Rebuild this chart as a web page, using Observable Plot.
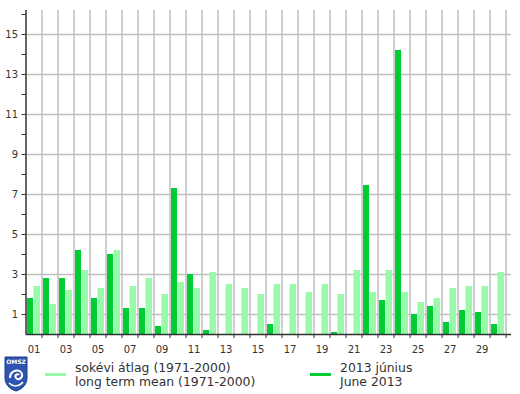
<!DOCTYPE html>
<html>
<head>
<meta charset="utf-8">
<script src="https://cdn.jsdelivr.net/npm/d3@7"></script>
<script src="https://cdn.jsdelivr.net/npm/@observablehq/plot@0.6"></script>
<style>
  html, body { margin: 0; padding: 0; background: #fff; }
  body { width: 520px; height: 394px; overflow: hidden; font-family: "DejaVu Sans", Verdana, sans-serif; }
  #chart svg { display: block; }
  #legend { position: relative; height: 36px; color: #333; font-size: 12.4px; line-height: 14px; }
  .sw { position: absolute; top: 15px; width: 21px; height: 2.5px; }
  .txt { position: absolute; top: 0; white-space: nowrap; }
</style>
</head>
<body>
<div id="chart"></div>
<div id="legend">
  <svg style="position:absolute;left:4px;top:-2px" width="24" height="36" viewBox="0 0 24 36">
    <path d="M1,1 H23 V22 C23,30 16,34 12,35 C8,34 1,30 1,22 Z" fill="#2d55b0" stroke="#1e3c8c" stroke-width="1"/>
    <text x="12" y="7.5" text-anchor="middle" fill="#fff" font-size="6" font-weight="bold" font-family="DejaVu Sans">OMSZ</text>
    <path d="M6,22 C6,14 16,12 18,18 C19,22 14,25 12,22 C10,19 14,17 15,19" fill="none" stroke="#fff" stroke-width="2"/>
    <path d="M5,27 C9,31 15,31 19,26" fill="none" stroke="#fff" stroke-width="1.5"/>
  </svg>
  <div class="sw" style="left:45px;background:#99fbaa"></div>
  <div class="txt" style="left:75px;top:3px">sokévi átlag (1971-2000)<br>long term mean (1971-2000)</div>
  <div class="sw" style="left:310px;background:#00cc33"></div>
  <div class="txt" style="left:340px;top:3px">2013 június<br>June 2013</div>
</div>
<script>
const days = d3.range(1, 31);
const meanValues = [2.4,1.5,2.2,3.2,2.3,4.2,2.4,2.8,2.0,2.6,2.3,3.1,2.5,2.3,2.0,2.5,2.5,2.1,2.5,2.0,3.2,2.1,3.2,2.1,1.6,1.8,2.3,2.4,2.4,3.1];
const juneValues = [1.8,2.8,2.8,4.2,1.8,4.0,1.3,1.3,0.4,7.3,3.0,0.2,0,0,0,0.5,0,0,0,0.1,0,7.45,1.7,14.2,1.0,1.4,0.6,1.2,1.1,0.5];
const yTickValues = d3.range(1, 17);
const yGridValues = [1,3,5,7,9,11,13,15];
const xLabelDays = [1,3,5,7,9,11,13,15,17,19,21,23,25,27,29];
const dayBoundaries = d3.range(1.5, 31, 1);

const colorMean = "#99fbaa";
const colorJune = "#00cc33";
const gridColor = "#c0c0c0";
const axisColor = "#333";

const june = days.map((d, i) => ({day: d, value: juneValues[i]}));
const mean = days.map((d, i) => ({day: d, value: meanValues[i]}));

const chart = Plot.plot({
  width: 520,
  height: 358,
  marginTop: 10,
  marginLeft: 25.5,
  marginRight: 9,
  marginBottom: 24,
  style: {fontFamily: "DejaVu Sans, Verdana, sans-serif", fontSize: "10px", color: axisColor, background: "#fff"},
  x: {domain: [0.5, 30.84], axis: null},
  y: {domain: [0, 16.2], axis: null},
  marks: [
    Plot.ruleY(yGridValues, {stroke: gridColor, strokeWidth: 1.5}),
    Plot.ruleX(dayBoundaries, {stroke: gridColor, strokeWidth: 1.5}),
    Plot.rectY(june, {x1: d => d.day - 0.5 + 0.094, x2: d => d.day - 0.5 + 0.47, y: "value", fill: colorJune}),
    Plot.rectY(mean, {x1: d => d.day - 0.5 + 0.5, x2: d => d.day - 0.5 + 0.906, y: "value", fill: colorMean}),
    Plot.axisY(yTickValues, {label: null, tickSize: 4, tickPadding: 4, tickFormat: d => d % 2 ? String(d) : "", stroke: axisColor, fill: axisColor}),
    Plot.axisX(dayBoundaries, {label: null, tickSize: 4, tickFormat: () => "", stroke: axisColor}),
    Plot.axisX(xLabelDays, {label: null, tickSize: 0, tickPadding: 11, tickFormat: d => String(d).padStart(2, "0"), fill: axisColor}),
    Plot.ruleX([0.5], {stroke: axisColor, strokeWidth: 1.5}),
    Plot.ruleY([0], {stroke: axisColor, strokeWidth: 1.5})
  ]
});
document.getElementById("chart").appendChild(chart);
</script>
</body>
</html>
